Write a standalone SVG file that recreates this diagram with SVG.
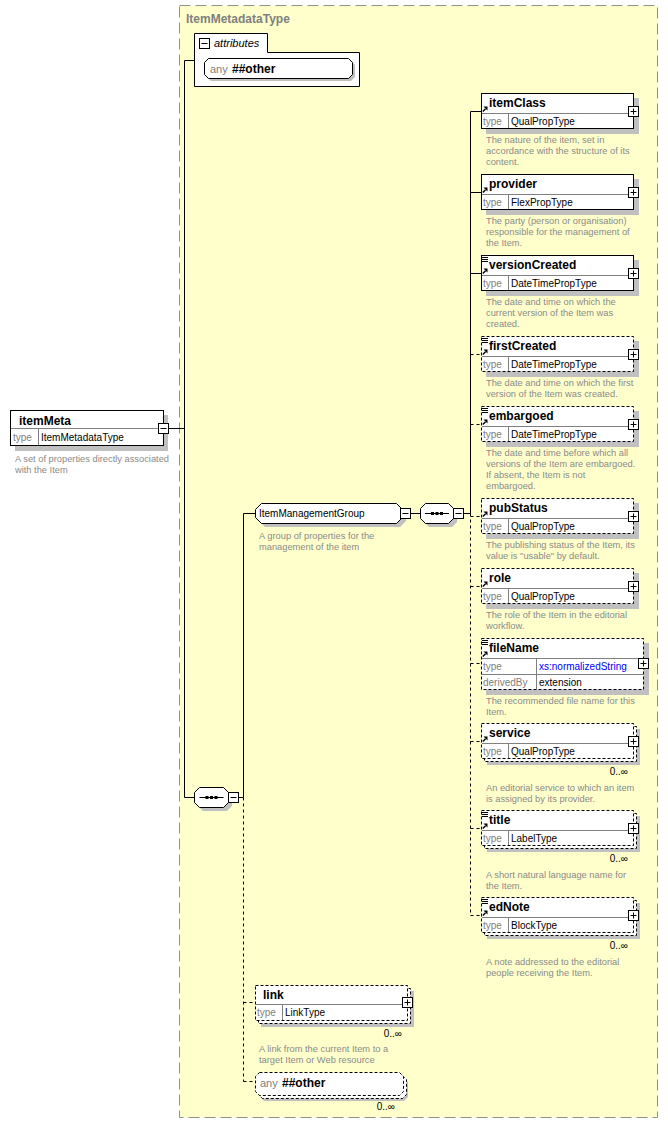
<svg xmlns="http://www.w3.org/2000/svg" xmlns:xlink="http://www.w3.org/1999/xlink" width="668" height="1123" viewBox="0 0 668 1123">
<style>
text{font-family:"Liberation Sans",Arial,sans-serif}
.nm{font-size:12px;font-weight:bold;fill:#000}
.lb{font-size:10px;fill:#808080}
.vl{font-size:10px;fill:#000}
.bl{font-size:10px;fill:#0000ff}
.ds{font-size:9.3px;fill:#8a8a8a}
.oc{font-size:10px;fill:#000;text-anchor:end}
.sh{fill:#c0c0c0;stroke:none}
.bx{fill:#fff;stroke:#000;stroke-width:1}
.dsh{stroke-dasharray:3,2}
.dv{stroke:#808080;fill:none}
.cn{stroke:#000;fill:none}
.cd{stroke-dasharray:3,3}
</style>
<defs>
<g id="plus"><rect x="-5" y="-5" width="10" height="10" fill="#fff" stroke="#000"/><path d="M-3 0H3M0 -3V3" stroke="#000" fill="none"/></g>
<g id="minus"><rect x="-5" y="-5" width="10" height="10" fill="#fff" stroke="#000"/><path d="M-3 0H3" stroke="#000" fill="none"/></g>
<g id="ref"><path d="M0.8 5.6L3.6 2.8" stroke="#000" stroke-width="1.4" fill="none"/><path d="M1.5 0.5H5.5V4.5Z" fill="#000"/></g>
<path id="lst" d="M0 0.5H6M0 2.5H6M0 4.5H6" stroke="#000" fill="none"/>
<g id="seqsym"><path d="M-12 0.5H12" stroke="#000"/><rect x="-6" y="-1" width="3" height="3" fill="#000"/><rect x="-1.5" y="-1" width="3" height="3" fill="#000"/><rect x="3" y="-1" width="3" height="3" fill="#000"/></g>
</defs>

<rect x="179.5" y="5.5" width="478" height="1112" fill="#ffffcc" stroke="#909090" stroke-dasharray="11,5"/>
<text x="186" y="23" class="nm" style="fill:#808080">ItemMetadataType</text>

<g id="connectors">
<path class="cn" d="M168.5 428.5H184.5M184.5 60.5V797.5M184.5 60.5H194M184.5 797.5H194"/>
<path class="cn" d="M238.5 797.5H243.5M243.5 513.5V797.5M243.5 513.5H255"/>
<path class="cn cd" d="M243.5 797.5V1081.5M243.5 1002.5H255M243.5 1081.5H255"/>
<path class="cn" d="M410.5 513.5H420M463.5 513.5H470.5M470.5 111.5V513.5M470.5 111.5H481M470.5 192.5H481M470.5 273.5H481"/>
<path class="cn cd" d="M470.5 513.5V915.5M470.5 354.5H481M470.5 424.5H481M470.5 516.5H481M470.5 586.5H481M470.5 663.5H481M470.5 741.5H481M470.5 828.5H481M470.5 915.5H481"/>
</g>

<g id="itemMeta">
<rect class="sh" x="15" y="415" width="153" height="36"/>
<rect class="bx" x="10.5" y="410.5" width="153" height="35"/>
<path class="dv" d="M11 428.5H163M38.5 429V445"/>
<text class="nm" x="19" y="425">itemMeta</text>
<text class="lb" x="13" y="441">type</text>
<text class="vl" x="41" y="441">ItemMetadataType</text>
<use href="#minus" x="163.5" y="428.5"/>
<text class="ds" x="15" y="462">A set of properties directly associated</text>
<text class="ds" x="15" y="473">with the Item</text>
</g>

<g id="attributes">
<path class="bx" d="M194.5 86.5V33.5H267.5V52.5H359.5V86.5Z"/>
<use href="#minus" x="204.5" y="43.5"/>
<text x="214" y="47" style="font-size:11px;font-style:italic">attributes</text>
<path class="sh" d="M211 61H351L355 65V77L351 81H211L207 77V65Z"/>
<path class="bx" d="M208.5 58.5H348.5L352.5 62.5V74.5L348.5 78.5H208.5L204.5 74.5V62.5Z"/>
<text x="210" y="73" style="font-size:11px;fill:#808080">any</text>
<text class="nm" x="232" y="73">##other</text>
</g>

<g id="seq1">
<path class="sh" d="M203 791H227L232 796V806L227 811H203L198 806V796Z"/>
<path class="bx" d="M199.5 787.5H223.5L228.5 792.5V802.5L223.5 807.5H199.5L194.5 802.5V792.5Z"/>
<use href="#seqsym" x="211.5" y="797"/>
<use href="#minus" x="233.5" y="797.5"/>
</g>

<g id="ItemManagementGroup">
<path class="sh" d="M265 507H400L406 513V521L400 527H265L259 521V513Z"/>
<path class="bx" d="M261.5 503.5H396.5L402.5 509.5V517.5L396.5 523.5H261.5L255.5 517.5V509.5Z"/>
<text class="vl" x="259" y="517">ItemManagementGroup</text>
<use href="#minus" x="405.5" y="513.5"/>
<text class="ds" x="259" y="539">A group of properties for the</text>
<text class="ds" x="259" y="550">management of the item</text>
</g>

<g id="seq2">
<path class="sh" d="M429 507H452L457 512V522L452 527H429L424 522V512Z"/>
<path class="bx" d="M425.5 503.5H448.5L453.5 508.5V518.5L448.5 523.5H425.5L420.5 518.5V508.5Z"/>
<use href="#seqsym" x="437" y="513"/>
<use href="#minus" x="458.5" y="513.5"/>
</g>

<g id="itemClass">
<rect class="sh" x="486" y="98" width="153" height="36"/>
<rect class="bx" x="481.5" y="93.5" width="152" height="35"/>
<path class="dv" d="M482 113.5H633M508.5 114V128"/>
<use href="#ref" x="482" y="106"/>
<text class="nm" x="489" y="107">itemClass</text>
<text class="lb" x="483" y="125">type</text>
<text class="vl" x="511" y="125">QualPropType</text>
<use href="#plus" x="633.5" y="111.5"/>
<text class="ds" x="486" y="143">The nature of the item, set in</text>
<text class="ds" x="486" y="154">accordance with the structure of its</text>
<text class="ds" x="486" y="165">content.</text>
</g>

<g id="provider">
<rect class="sh" x="486" y="179" width="153" height="36"/>
<rect class="bx" x="481.5" y="174.5" width="152" height="35"/>
<path class="dv" d="M482 194.5H633M508.5 195V209"/>
<use href="#ref" x="482" y="187"/>
<text class="nm" x="489" y="188">provider</text>
<text class="lb" x="483" y="206">type</text>
<text class="vl" x="511" y="206">FlexPropType</text>
<use href="#plus" x="633.5" y="192.5"/>
<text class="ds" x="486" y="224">The party (person or organisation)</text>
<text class="ds" x="486" y="235">responsible for the management of</text>
<text class="ds" x="486" y="246">the Item.</text>
</g>

<g id="versionCreated">
<rect class="sh" x="486" y="260" width="153" height="36"/>
<rect class="bx" x="481.5" y="255.5" width="152" height="35"/>
<path class="dv" d="M482 275.5H633M508.5 276V290"/>
<use href="#lst" x="482" y="257"/>
<use href="#ref" x="482" y="268"/>
<text class="nm" x="489" y="269">versionCreated</text>
<text class="lb" x="483" y="287">type</text>
<text class="vl" x="511" y="287">DateTimePropType</text>
<use href="#plus" x="633.5" y="273.5"/>
<text class="ds" x="486" y="305">The date and time on which the</text>
<text class="ds" x="486" y="316">current version of the Item was</text>
<text class="ds" x="486" y="327">created.</text>
</g>

<g id="firstCreated">
<rect class="sh" x="486" y="341" width="153" height="36"/>
<rect class="bx dsh" x="481.5" y="336.5" width="152" height="35"/>
<path class="dv" d="M482 356.5H633M508.5 357V371"/>
<use href="#lst" x="482" y="338"/>
<use href="#ref" x="482" y="349"/>
<text class="nm" x="489" y="350">firstCreated</text>
<text class="lb" x="483" y="368">type</text>
<text class="vl" x="511" y="368">DateTimePropType</text>
<use href="#plus" x="633.5" y="354.5"/>
<text class="ds" x="486" y="386">The date and time on which the first</text>
<text class="ds" x="486" y="397">version of the Item was created.</text>
</g>

<g id="embargoed">
<rect class="sh" x="486" y="411" width="153" height="36"/>
<rect class="bx dsh" x="481.5" y="406.5" width="152" height="35"/>
<path class="dv" d="M482 426.5H633M508.5 427V441"/>
<use href="#lst" x="482" y="408"/>
<use href="#ref" x="482" y="419"/>
<text class="nm" x="489" y="420">embargoed</text>
<text class="lb" x="483" y="438">type</text>
<text class="vl" x="511" y="438">DateTimePropType</text>
<use href="#plus" x="633.5" y="424.5"/>
<text class="ds" x="486" y="456">The date and time before which all</text>
<text class="ds" x="486" y="467">versions of the Item are embargoed.</text>
<text class="ds" x="486" y="478">If absent, the Item is not</text>
<text class="ds" x="486" y="489">embargoed.</text>
</g>

<g id="pubStatus">
<rect class="sh" x="486" y="503" width="153" height="36"/>
<rect class="bx dsh" x="481.5" y="498.5" width="152" height="35"/>
<path class="dv" d="M482 518.5H633M508.5 519V533"/>
<use href="#ref" x="482" y="511"/>
<text class="nm" x="489" y="512">pubStatus</text>
<text class="lb" x="483" y="530">type</text>
<text class="vl" x="511" y="530">QualPropType</text>
<use href="#plus" x="633.5" y="516.5"/>
<text class="ds" x="486" y="548">The publishing status of the Item, its</text>
<text class="ds" x="486" y="559">value is "usable" by default.</text>
</g>

<g id="role">
<rect class="sh" x="486" y="573" width="153" height="36"/>
<rect class="bx dsh" x="481.5" y="568.5" width="152" height="35"/>
<path class="dv" d="M482 588.5H633M508.5 589V603"/>
<use href="#ref" x="482" y="581"/>
<text class="nm" x="489" y="582">role</text>
<text class="lb" x="483" y="600">type</text>
<text class="vl" x="511" y="600">QualPropType</text>
<use href="#plus" x="633.5" y="586.5"/>
<text class="ds" x="486" y="618">The role of the Item in the editorial</text>
<text class="ds" x="486" y="629">workflow.</text>
</g>

<g id="fileName">
<rect class="sh" x="486" y="643" width="163" height="52"/>
<rect class="bx dsh" x="481.5" y="638.5" width="162" height="51"/>
<path class="dv" d="M482 658.5H643M482 674.5H643M536.5 659V689"/>
<use href="#lst" x="482" y="640"/>
<use href="#ref" x="482" y="651"/>
<text class="nm" x="489" y="652">fileName</text>
<text class="lb" x="483" y="670">type</text>
<text class="bl" x="539" y="670">xs:normalizedString</text>
<text class="lb" x="483" y="686">derivedBy</text>
<text class="vl" x="539" y="686">extension</text>
<use href="#plus" x="643.5" y="663.5"/>
<text class="ds" x="486" y="704">The recommended file name for this</text>
<text class="ds" x="486" y="715">Item.</text>
</g>

<g id="service">
<rect class="sh" x="487" y="729" width="153" height="36"/>
<rect class="bx dsh" x="484.5" y="726.5" width="152" height="35"/>
<rect class="bx dsh" x="481.5" y="723.5" width="152" height="35"/>
<path class="dv" d="M482 743.5H633M508.5 744V758"/>
<use href="#ref" x="482" y="736"/>
<text class="nm" x="489" y="737">service</text>
<text class="lb" x="483" y="755">type</text>
<text class="vl" x="511" y="755">QualPropType</text>
<use href="#plus" x="633.5" y="741.5"/>
<text class="oc" x="628" y="775">0..∞</text>
<text class="ds" x="486" y="791">An editorial service to which an item</text>
<text class="ds" x="486" y="802">is assigned by its provider.</text>
</g>

<g id="title">
<rect class="sh" x="487" y="816" width="153" height="36"/>
<rect class="bx dsh" x="484.5" y="813.5" width="152" height="35"/>
<rect class="bx dsh" x="481.5" y="810.5" width="152" height="35"/>
<path class="dv" d="M482 830.5H633M508.5 831V845"/>
<use href="#lst" x="482" y="812"/>
<use href="#ref" x="482" y="823"/>
<text class="nm" x="489" y="824">title</text>
<text class="lb" x="483" y="842">type</text>
<text class="vl" x="511" y="842">LabelType</text>
<use href="#plus" x="633.5" y="828.5"/>
<text class="oc" x="628" y="862">0..∞</text>
<text class="ds" x="486" y="878">A short natural language name for</text>
<text class="ds" x="486" y="889">the Item.</text>
</g>

<g id="edNote">
<rect class="sh" x="487" y="903" width="153" height="36"/>
<rect class="bx dsh" x="484.5" y="900.5" width="152" height="35"/>
<rect class="bx dsh" x="481.5" y="897.5" width="152" height="35"/>
<path class="dv" d="M482 917.5H633M508.5 918V932"/>
<use href="#lst" x="482" y="899"/>
<use href="#ref" x="482" y="910"/>
<text class="nm" x="489" y="911">edNote</text>
<text class="lb" x="483" y="929">type</text>
<text class="vl" x="511" y="929">BlockType</text>
<use href="#plus" x="633.5" y="915.5"/>
<text class="oc" x="628" y="949">0..∞</text>
<text class="ds" x="486" y="965">A note addressed to the editorial</text>
<text class="ds" x="486" y="976">people receiving the Item.</text>
</g>

<g id="link">
<rect class="sh" x="261" y="991" width="153" height="36"/>
<rect class="bx dsh" x="258.5" y="988.5" width="152" height="35"/>
<rect class="bx dsh" x="255.5" y="985.5" width="152" height="35"/>
<path class="dv" d="M256 1004.5H407M282.5 1005V1020"/>
<text class="nm" x="263" y="999">link</text>
<text class="lb" x="257" y="1016">type</text>
<text class="vl" x="285" y="1016">LinkType</text>
<use href="#plus" x="407.5" y="1002.5"/>
<text class="oc" x="402" y="1037">0..∞</text>
<text class="ds" x="259" y="1052">A link from the current Item to a</text>
<text class="ds" x="259" y="1063">target Item or Web resource</text>
</g>

<g id="anyOther">
<path class="sh" d="M264 1078H404L408 1082V1097L404 1101H264L260 1097V1082Z"/>
<path class="bx dsh" d="M262.5 1075.5H402.5L406.5 1079.5V1094.5L402.5 1098.5H262.5L258.5 1094.5V1079.5Z"/>
<path class="bx dsh" d="M259.5 1072.5H399.5L403.5 1076.5V1091.5L399.5 1095.5H259.5L255.5 1091.5V1076.5Z"/>
<text x="260" y="1087" style="font-size:11px;fill:#808080">any</text>
<text class="nm" x="282" y="1087">##other</text>
<text class="oc" x="395" y="1110">0..∞</text>
</g>
</svg>
